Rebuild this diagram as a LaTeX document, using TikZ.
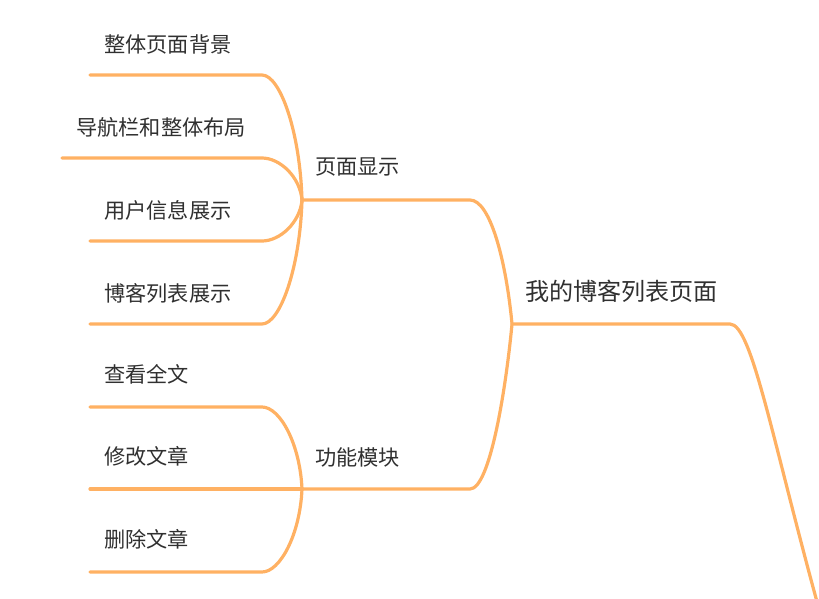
\documentclass[tikz,border=0pt]{standalone}
\usepackage{fontspec}
\setmainfont{Noto Sans CJK SC}
\usetikzlibrary{positioning,calc}
\definecolor{branchorange}{RGB}{255,177,99}
\definecolor{labelgray}{RGB}{48,48,48}

\begin{document}
\begin{tikzpicture}[x=1pt,y=-1pt,
    branch/.style={draw=branchorange,line width=3.2pt,line cap=round,line join=round},
    leaf/.style={anchor=west,inner sep=0pt,text=labelgray,font=\fontsize{21.2}{25}\selectfont},
    topic/.style={leaf,font=\fontsize{24.1}{28}\selectfont}]
  \useasboundingbox (0,0) rectangle (819,598);
  % junctions of the map
  \coordinate (root) at (512,324);
  \coordinate (rootend) at (730,324);
  \coordinate (tail) at (822,620);
  \coordinate (page) at (302,200);
  \coordinate (pagein) at (470,200);
  \coordinate (func) at (302,489);
  \coordinate (funcin) at (470,489);

  \node[topic] (title) at (525,291) {我的博客列表页面};
  \node[leaf] (pagelbl) at (315,167) {页面显示};
  \node[leaf] (funclbl) at (315,457) {功能模块};

  \draw[branch] (root) -- (rootend) .. controls +(22,0) and +(-50,-180) .. (tail);
  \draw[branch] (page) -- (pagein) .. controls +(20,0) and +(-6,-64) .. (root);
  \draw[branch] (func) -- (funcin) .. controls +(20,0) and +(-6,64) .. (root);

  % page branches
  \foreach \name/\txt/\y/\x in {bg/整体页面背景/75/90,nav/导航栏和整体布局/158/62,user/用户信息展示/241/90,list/博客列表展示/324/90}{
    \coordinate (\name-end) at (\x,\y);
    \coordinate (\name-bend) at (262,\y);
    \node[leaf] (\name) at (\x+14,\y-31) {\txt};
    \draw[branch] (\name-end) -- (\name-bend) .. controls +(18,0) and +(-2,{(\y-200)*0.55}) .. (page);
  }
  % function branches
  \foreach \name/\txt/\y in {view/查看全文/407,edit/修改文章/489,del/删除文章/572}{
    \coordinate (\name-end) at (90,\y);
    \coordinate (\name-bend) at (262,\y);
    \node[leaf] (\name) at (104,\y-33) {\txt};
    \draw[branch] (\name-end) -- (\name-bend) .. controls +(18,0) and +(-2,{(\y-489)*0.55}) .. (func);
  }
\end{tikzpicture}
\end{document}
